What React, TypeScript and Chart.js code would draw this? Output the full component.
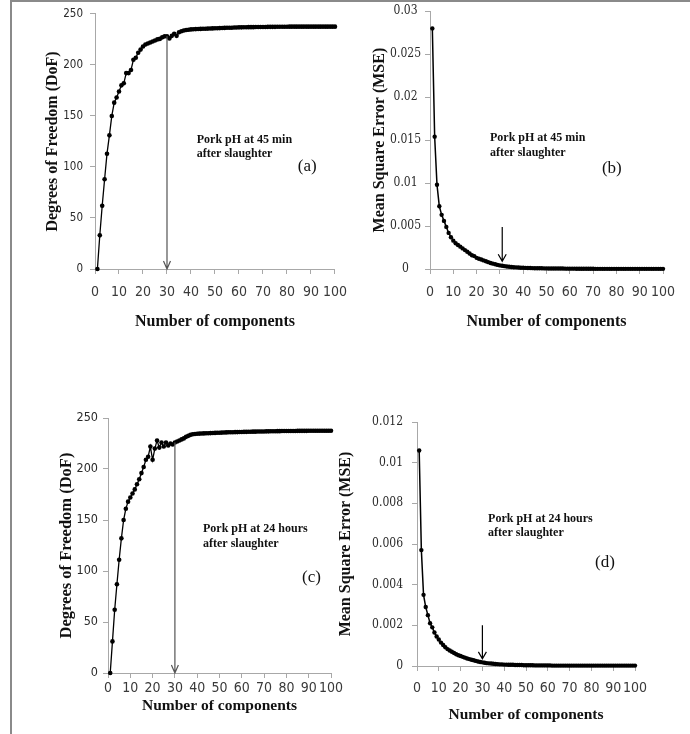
import React, { useEffect, useRef } from "react";
import { Chart, registerables } from "chart.js";

Chart.register(...registerables);

// ---------- data ----------
const components = Array.from({ length: 100 }, (_, i) => i + 1);

const dof45min = [
  0, 33, 62, 88, 113, 131, 150, 163, 168, 174,
  180, 182, 192, 192, 195, 205, 207, 212, 215, 218,
  220, 221, 222, 223, 224, 225, 225.5, 227, 228, 228,
  226, 228.5, 230.5, 228.5, 232, 233, 233.8, 234.2, 234.5, 234.8,
  235, 235.1, 235.2, 235.3, 235.4, 235.5, 235.6, 235.7, 235.8, 235.9,
  236, 236.1, 236.2, 236.3, 236.4, 236.5, 236.5, 236.6, 236.7, 236.8,
  236.8, 236.9, 236.9, 237, 237, 237, 237.1, 237.1, 237.2, 237.2,
  237.2, 237.3, 237.3, 237.3, 237.3, 237.4, 237.4, 237.4, 237.4, 237.4,
  237.5, 237.5, 237.5, 237.5, 237.5, 237.5, 237.5, 237.5, 237.5, 237.5,
  237.5, 237.5, 237.5, 237.5, 237.5, 237.5, 237.5, 237.5, 237.5, 237.5,
];

const mse45min = [
  0.028, 0.0154, 0.0098, 0.0073, 0.0063, 0.0056, 0.0049, 0.0042, 0.0037, 0.0033,
  0.003, 0.0028, 0.0026, 0.0024, 0.0022, 0.002, 0.0018, 0.0016, 0.0015, 0.0013,
  0.0012, 0.0011, 0.001, 0.0009, 0.0008, 0.0007, 0.00062, 0.00055, 0.00048, 0.00042,
  0.00037, 0.00033, 0.00029, 0.00026, 0.00023, 0.00021, 0.00019, 0.00017, 0.00015, 0.00014,
  0.00013, 0.00012, 0.00011, 0.0001, 0.00009, 0.00009, 0.00008, 0.00008, 0.00007, 0.00007,
  0.00006, 0.00006, 0.00006, 0.00005, 0.00005, 0.00005, 0.00005, 0.00004, 0.00004, 0.00004,
  0.00004, 0.00004, 0.00003, 0.00003, 0.00003, 0.00003, 0.00003, 0.00003, 0.00003, 0.00003,
  0.00002, 0.00002, 0.00002, 0.00002, 0.00002, 0.00002, 0.00002, 0.00002, 0.00002, 0.00002,
  0.00002, 0.00002, 0.00002, 0.00002, 0.00002, 0.00002, 0.00002, 0.00002, 0.00002, 0.00002,
  0.00002, 0.00002, 0.00002, 0.00002, 0.00002, 0.00002, 0.00002, 0.00002, 0.00002, 0.00002,
];

const dof24h = [
  0, 31, 62, 87, 111, 132, 150, 161, 168, 172,
  176, 180, 185, 190, 196, 202, 209, 212, 222, 209,
  220, 228, 221, 226, 222, 226, 223, 225, 224, 226,
  227, 228, 229, 230, 231.5, 232.5, 233.5, 234, 234.3, 234.5,
  234.7, 234.8, 234.9, 235, 235.1, 235.2, 235.3, 235.4, 235.5, 235.6,
  235.7, 235.8, 235.9, 236, 236, 236.1, 236.2, 236.2, 236.3, 236.3,
  236.4, 236.4, 236.5, 236.5, 236.6, 236.6, 236.7, 236.7, 236.8, 236.8,
  236.9, 236.9, 237, 237, 237, 237.1, 237.1, 237.2, 237.2, 237.2,
  237.3, 237.3, 237.3, 237.3, 237.4, 237.4, 237.4, 237.4, 237.4, 237.5,
  237.5, 237.5, 237.5, 237.5, 237.5, 237.5, 237.5, 237.5, 237.5, 237.5,
];

const mse24h = [
  0.0106, 0.0057, 0.0035, 0.0029, 0.0025, 0.0021, 0.0019, 0.00165, 0.00145, 0.0013,
  0.00115, 0.00103, 0.00092, 0.00083, 0.00076, 0.0007, 0.00064, 0.00058, 0.00053, 0.00049,
  0.00045, 0.00041, 0.00037, 0.00034, 0.00031, 0.00028, 0.00025, 0.00022, 0.0002, 0.00018,
  0.00016, 0.00014, 0.00013, 0.00012, 0.00011, 0.0001, 0.00009, 0.00008, 0.00008, 0.00007,
  0.00007, 0.00006, 0.00006, 0.00006, 0.00005, 0.00005, 0.00005, 0.00005, 0.00004, 0.00004,
  0.00004, 0.00004, 0.00004, 0.00003, 0.00003, 0.00003, 0.00003, 0.00003, 0.00003, 0.00003,
  0.00003, 0.00002, 0.00002, 0.00002, 0.00002, 0.00002, 0.00002, 0.00002, 0.00002, 0.00002,
  0.00002, 0.00002, 0.00002, 0.00002, 0.00002, 0.00002, 0.00002, 0.00002, 0.00002, 0.00002,
  0.00002, 0.00002, 0.00002, 0.00002, 0.00002, 0.00002, 0.00002, 0.00002, 0.00002, 0.00002,
  0.00002, 0.00002, 0.00002, 0.00002, 0.00002, 0.00002, 0.00002, 0.00002, 0.00002, 0.00002,
];

const xTickValues = [0, 10, 20, 30, 40, 50, 60, 70, 80, 90, 100];
const xTickLabels = ["0", "10", "20", "30", "40", "50", "60", "70", "80", "90", "100"];
const dofTickValues = [0, 50, 100, 150, 200, 250];
const dofTickLabels = ["0", "50", "100", "150", "200", "250"];
const mse45TickValues = [0, 0.005, 0.01, 0.015, 0.02, 0.025, 0.03];
const mse45TickLabels = ["0", "0.005", "0.01", "0.015", "0.02", "0.025", "0.03"];
const mse24TickValues = [0, 0.002, 0.004, 0.006, 0.008, 0.01, 0.012];
const mse24TickLabels = ["0", "0.002", "0.004", "0.006", "0.008", "0.01", "0.012"];

const xTitle = "Number of components";
const dofTitle = "Degrees of Freedom (DoF)";
const mseTitle = "Mean Square Error (MSE)";
const note45 = ["Pork pH at 45 min", "after slaughter"];
const note24 = ["Pork pH at 24 hours", "after slaughter"];

// ---------- styling ----------
const SERIF = "'Liberation Serif', 'Times New Roman', serif";
const NARROW = "'Liberation Sans Narrow', 'DejaVu Sans Condensed', sans-serif";
const SERIF_COND = "'DejaVu Serif Condensed', 'Liberation Serif', serif";
const AXIS = "#a8a8a8";

type Note = { x: number; y: number; text: string; size: number; bold: boolean };
type Arrow = { x: number; y1: number; y2: number; color: string; hw: number; hh: number };

type PanelCfg = {
  left: number; top: number; width: number; height: number;
  yWidth: number; xHeight: number; padTop: number; padRight: number;
  values: number[];
  yMax: number; yTickValues: number[]; yTickLabels: string[];
  yFont: { family: string; size: number }; yTickPad: number; yAlign: "near" | "center";
  yTitle: string; yTitleSize: number; yTitlePad: number;
  xTickPad: number; xTitleSize: number; xTitlePadBottom: number;
  notes: Note[]; arrows: Arrow[];
  pointRadius: number; lineWidth: number;
};

const annotPlugin = {
  id: "annot",
  afterDatasetsDraw(chart: any, _args: any, opts: any) {
    const { ctx, scales } = chart;
    const xs = scales.x, ys = scales.y;
    ctx.save();
    (opts.arrows || []).forEach((a: Arrow) => {
      const px = xs.getPixelForValue(a.x);
      const p1 = ys.getPixelForValue(a.y1);
      const p2 = ys.getPixelForValue(a.y2);
      ctx.strokeStyle = a.color;
      ctx.lineWidth = 1.2;
      ctx.beginPath();
      ctx.moveTo(px, p1);
      ctx.lineTo(px, p2);
      ctx.moveTo(px - a.hw, p2 - a.hh);
      ctx.lineTo(px, p2);
      ctx.lineTo(px + a.hw, p2 - a.hh);
      ctx.stroke();
    });
    (opts.notes || []).forEach((n: Note) => {
      ctx.font = `${n.bold ? "bold " : ""}${n.size}px ${SERIF}`;
      ctx.fillStyle = "#111";
      ctx.textAlign = "left";
      ctx.textBaseline = "middle";
      ctx.fillText(n.text, xs.getPixelForValue(n.x), ys.getPixelForValue(n.y));
    });
    ctx.restore();
  },
};

function Panel({ cfg }: { cfg: PanelCfg }) {
  const ref = useRef<HTMLCanvasElement | null>(null);
  useEffect(() => {
    if (!ref.current) return;
    const chart = new Chart(ref.current, {
      type: "scatter",
      data: {
        datasets: [
          {
            data: components.map((c, i) => ({ x: c, y: cfg.values[i] })),
            showLine: true,
            borderColor: "#000",
            backgroundColor: "#000",
            borderWidth: cfg.lineWidth,
            pointRadius: cfg.pointRadius,
            pointBorderWidth: 0,
            pointBackgroundColor: "#000",
            tension: 0,
            clip: false,
          } as any,
        ],
      },
      options: {
        responsive: false,
        animation: false,
        devicePixelRatio: 1,
        layout: { padding: { top: cfg.padTop, right: cfg.padRight, left: 0, bottom: 0 } },
        plugins: {
          legend: { display: false },
          tooltip: { enabled: false },
          annot: { notes: cfg.notes, arrows: cfg.arrows },
        } as any,
        scales: {
          x: {
            type: "linear",
            min: 0,
            max: 100,
            afterBuildTicks: (s: any) => {
              s.ticks = xTickValues.map((v) => ({ value: v }));
            },
            afterFit: (s: any) => {
              s.height = cfg.xHeight;
            },
            grid: { drawOnChartArea: false, tickLength: 5, color: AXIS },
            border: { color: AXIS, width: 1 },
            ticks: {
              autoSkip: false,
              maxRotation: 0,
              padding: cfg.xTickPad,
              color: "#3a3a3a",
              font: { family: NARROW, size: 14 },
              callback: (_v: any, i: number) => xTickLabels[i],
            },
            title: {
              display: true,
              text: xTitle,
              color: "#111",
              font: { family: SERIF, size: cfg.xTitleSize, weight: "bold" },
              padding: { top: 0, bottom: cfg.xTitlePadBottom },
            },
          },
          y: {
            type: "linear",
            min: 0,
            max: cfg.yMax,
            afterBuildTicks: (s: any) => {
              s.ticks = cfg.yTickValues.map((v) => ({ value: v }));
            },
            afterFit: (s: any) => {
              s.width = cfg.yWidth;
            },
            grid: { drawOnChartArea: false, tickLength: 5, color: AXIS },
            border: { color: AXIS, width: 1 },
            ticks: {
              autoSkip: false,
              padding: cfg.yTickPad,
              crossAlign: cfg.yAlign,
              color: "#2a2a2a",
              font: cfg.yFont,
              callback: (_v: any, i: number) => cfg.yTickLabels[i],
            },
            title: {
              display: true,
              text: cfg.yTitle,
              color: "#111",
              font: { family: SERIF, size: cfg.yTitleSize, weight: "bold" },
              padding: { top: cfg.yTitlePad, bottom: 0 },
            },
          },
        },
      } as any,
      plugins: [annotPlugin],
    });
    return () => chart.destroy();
  }, [cfg]);
  return (
    <canvas
      ref={ref}
      width={cfg.width}
      height={cfg.height}
      style={{
        position: "absolute",
        left: cfg.left,
        top: cfg.top,
        width: cfg.width,
        height: cfg.height,
      }}
    />
  );
}

const noteFont = 12;

const panels: PanelCfg[] = [
  {
    left: 12, top: 0, width: 345, height: 333,
    yWidth: 83, xHeight: 64, padTop: 9, padRight: 17,
    values: dof45min, yMax: 250, yTickValues: dofTickValues, yTickLabels: dofTickLabels,
    yFont: { family: NARROW, size: 11.5 }, yTickPad: 7, yAlign: "near",
    yTitle: dofTitle, yTitleSize: 16, yTitlePad: 31,
    xTickPad: 10, xTitleSize: 16, xTitlePadBottom: 1.5,
    notes: [
      { x: 42.4, y: 127, text: note45[0], size: noteFont, bold: true },
      { x: 42.4, y: 112.5, text: note45[1], size: noteFont, bold: true },
      { x: 84.5, y: 100, text: "(a)", size: 17, bold: false },
    ],
    arrows: [{ x: 30, y1: 228, y2: 0, color: "#555", hw: 3.5, hh: 8 }],
    pointRadius: 2.3, lineWidth: 1.3,
  },
  {
    left: 357, top: 0, width: 333, height: 333,
    yWidth: 73, xHeight: 64, padTop: 9, padRight: 27,
    values: mse45min, yMax: 0.03, yTickValues: mse45TickValues, yTickLabels: mse45TickLabels,
    yFont: { family: SERIF_COND, size: 12 }, yTickPad: 4, yAlign: "center",
    yTitle: mseTitle, yTitleSize: 16, yTitlePad: 13,
    xTickPad: 10, xTitleSize: 16, xTitlePadBottom: 1.5,
    notes: [
      { x: 25.75, y: 0.01523, text: note45[0], size: noteFont, bold: true },
      { x: 25.75, y: 0.0135, text: note45[1], size: noteFont, bold: true },
      { x: 73.8, y: 0.01165, text: "(b)", size: 17, bold: false },
    ],
    arrows: [{ x: 31, y1: 0.0049, y2: 0.0009, color: "#000", hw: 4, hh: 7 }],
    pointRadius: 2.2, lineWidth: 1.5,
  },
  {
    left: 12, top: 380, width: 345, height: 338,
    yWidth: 96, xHeight: 45, padTop: 38, padRight: 26,
    values: dof24h, yMax: 250, yTickValues: dofTickValues, yTickLabels: dofTickLabels,
    yFont: { family: NARROW, size: 12.5 }, yTickPad: 5, yAlign: "near",
    yTitle: dofTitle, yTitleSize: 16.5, yTitlePad: 45,
    xTickPad: 2, xTitleSize: 15.5, xTitlePadBottom: 2.5,
    notes: [
      { x: 42.6, y: 141, text: note24[0], size: noteFont, bold: true },
      { x: 42.6, y: 126.5, text: note24[1], size: noteFont, bold: true },
      { x: 87, y: 94, text: "(c)", size: 17, bold: false },
    ],
    arrows: [{ x: 30, y1: 226, y2: 0, color: "#555", hw: 3.5, hh: 8 }],
    pointRadius: 2.3, lineWidth: 1.3,
  },
  {
    left: 339, top: 380, width: 351, height: 346,
    yWidth: 78, xHeight: 60, padTop: 42, padRight: 55,
    values: mse24h, yMax: 0.012, yTickValues: mse24TickValues, yTickLabels: mse24TickLabels,
    yFont: { family: SERIF_COND, size: 12 }, yTickPad: 9, yAlign: "near",
    yTitle: mseTitle, yTitleSize: 16, yTitlePad: -3,
    xTickPad: 9, xTitleSize: 15.5, xTitlePadBottom: 1.5,
    notes: [
      { x: 32.6, y: 0.00723, text: note24[0], size: noteFont, bold: true },
      { x: 32.6, y: 0.00654, text: note24[1], size: noteFont, bold: true },
      { x: 81.7, y: 0.00511, text: "(d)", size: 17, bold: false },
    ],
    arrows: [{ x: 30, y1: 0.002, y2: 0.00035, color: "#000", hw: 4, hh: 7 }],
    pointRadius: 2.2, lineWidth: 1.5,
  },
];

export default function App() {
  return (
    <div
      style={{
        position: "absolute",
        left: 0,
        top: 0,
        width: 690,
        height: 734,
        background: "#fff",
        overflow: "hidden",
      }}
    >
      <div style={{ position: "absolute", left: 10, top: 0, width: 680, height: 2, background: "#8a8a8a" }} />
      <div style={{ position: "absolute", left: 10, top: 0, width: 2, height: 734, background: "#8a8a8a" }} />
      {panels.map((p, i) => (
        <Panel key={i} cfg={p} />
      ))}
    </div>
  );
}
